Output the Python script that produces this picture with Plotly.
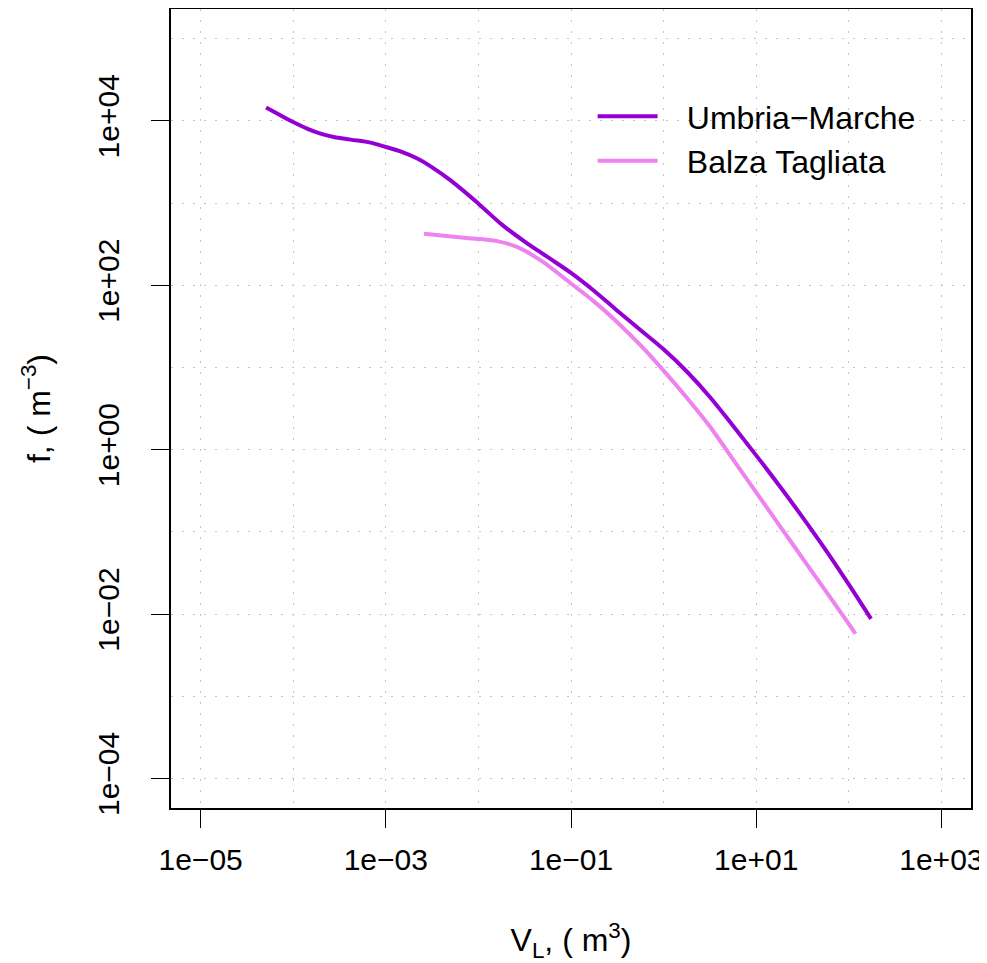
import plotly.graph_objects as go

# Umbria-Marche curve (volume m^3, frequency density m^-3)
um_volume = [5.09e-5, 7.26e-5, 9.98e-5, 1.41e-4, 1.97e-4, 2.74e-4, 4.16e-4, 6.84e-4,
             1.00e-3, 1.44e-3, 2.19e-3, 3.05e-3, 5.01e-3, 1.00e-2, 1.78e-2, 3.16e-2,
             5.62e-2, 0.100, 0.178, 0.316, 0.562, 1.0, 1.78, 3.16, 5.62, 10.0, 17.8,
             31.6, 56.2, 100, 174]
um_freq = [14500, 11700, 9660, 8040, 6980, 6350, 5900, 5420, 4800, 4250, 3470, 2790,
           1880, 982, 550, 339, 219, 141, 85.1, 49.0, 28.5, 16.6, 8.91, 4.37, 1.95,
           0.851, 0.363, 0.151, 0.0603, 0.0229, 0.00871]

# Balza Tagliata curve
bt_volume = [2.58e-3, 6.98e-3, 1.60e-2, 2.64e-2, 4.71e-2, 0.100, 0.178, 0.316,
             0.562, 1.0, 1.78, 3.16, 5.62, 10.0, 17.8, 31.6, 56.2, 100, 118]
bt_freq = [423, 378, 344, 290, 200, 105, 63.1, 35.5, 18.6, 9.12, 4.27, 1.91,
           0.759, 0.302, 0.120, 0.0479, 0.0191, 0.00759, 0.00575]

x_major = [1e-5, 1e-3, 1e-1, 1e1, 1e3]
x_major_text = ["1e\u221205", "1e\u221203", "1e\u221201", "1e+01", "1e+03"]
x_minor = [1e-4, 1e-2, 1e0, 1e2]
y_major = [1e-4, 1e-2, 1e0, 1e2, 1e4]
y_major_text = ["1e\u221204", "1e\u221202", "1e+00", "1e+02", "1e+04"]
y_minor = [1e-3, 1e-1, 1e1, 1e3, 1e5]

FONT = "Liberation Sans, Arial, Helvetica, sans-serif"
GRID = dict(showgrid=True, gridcolor="#c4c4c4", griddash="2px,9px", gridwidth=1)

fig = go.Figure()
fig.add_trace(go.Scatter(x=um_volume, y=um_freq, mode="lines",
                         name="\u00a0\u00a0\u2009Umbria\u2212Marche",
                         line=dict(color="#9400D3", width=4, shape="spline", smoothing=1.0)))
fig.add_trace(go.Scatter(x=bt_volume, y=bt_freq, mode="lines",
                         name="\u00a0\u00a0\u2009Balza Tagliata",
                         line=dict(color="#EE82EE", width=4, shape="spline", smoothing=1.0)))

fig.update_xaxes(type="log", range=[-5.32, 3.32], tickmode="array",
                 tickvals=x_major, ticktext=x_major_text, ticks="outside",
                 ticklen=18, tickwidth=1.2, tickcolor="black",
                 showline=True, linecolor="black", linewidth=2, mirror=True,
                 zeroline=False, ticklabelstandoff=6,
                 tickfont=dict(family=FONT, size=30, color="black"),
                 minor=dict(tickmode="array", tickvals=x_minor, ticks="", **GRID),
                 title=dict(text="V<sub>L</sub>, ( m<sup>3</sup>)", standoff=56,
                            font=dict(family=FONT, size=32, color="black")),
                 **GRID)
fig.update_yaxes(type="log", range=[-4.36, 5.36], tickmode="array",
                 tickvals=y_major, ticktext=y_major_text, ticks="outside",
                 ticklen=18, tickwidth=1.2, tickcolor="black", tickangle=-90,
                 showline=True, linecolor="black", linewidth=2, mirror=True,
                 zeroline=False, ticklabelstandoff=20,
                 tickfont=dict(family=FONT, size=30, color="black"),
                 minor=dict(tickmode="array", tickvals=y_minor, ticks="", **GRID),
                 title=dict(text="f, ( m<sup>\u22123</sup>)", standoff=32,
                            font=dict(family=FONT, size=32, color="black")),
                 **GRID)

fig.update_layout(
    width=979, height=955,
    margin=dict(l=163, r=16, t=1, b=155, autoexpand=False),
    paper_bgcolor="white", plot_bgcolor="white",
    font=dict(family=FONT, color="black"),
    showlegend=True,
    legend=dict(x=0.527, y=0.900, xanchor="left", yanchor="top",
                bgcolor="rgba(0,0,0,0)", borderwidth=0,
                font=dict(family=FONT, size=32, color="black"),
                itemwidth=60, tracegroupgap=0),
)

fig.write_html("out.html")
